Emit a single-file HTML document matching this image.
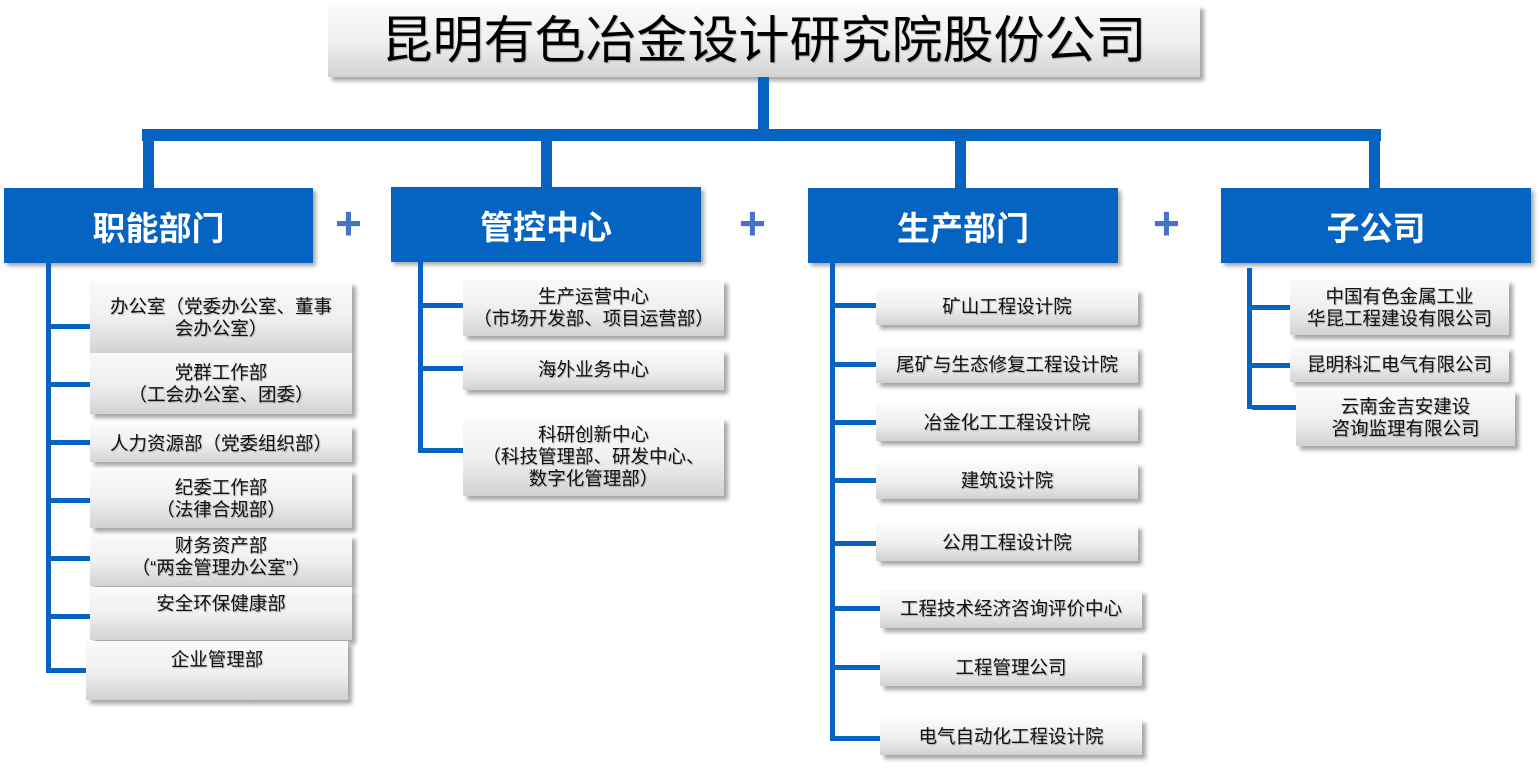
<!DOCTYPE html>
<html><head><meta charset="utf-8"><style>
body{margin:0;width:1538px;height:768px;background:#fff;position:relative;overflow:hidden;font-family:"Liberation Sans","Noto Sans CJK SC",sans-serif}
div{position:absolute;box-sizing:border-box}
.l{background:#0563c1}
.h{background:#0563c1;color:#fff;font-weight:bold;font-size:33px;display:flex;align-items:center;justify-content:center;box-shadow:3px 3px 4px rgba(0,0,0,.35)}
.b{background:linear-gradient(#fafafa 0%,#f0f0f0 50%,#d2d2d2 100%);box-shadow:4px 4px 4px rgba(0,0,0,.35);font-size:18.5px;color:#111;text-align:center;line-height:22px;display:flex;align-items:center;justify-content:center;text-shadow:1px 1px 1px rgba(0,0,0,.25);white-space:nowrap}
.p{color:#4a72c4;font-size:46px;font-weight:bold;line-height:46px}
</style></head><body>
<div class="b" style="left:328px;top:5px;width:872px;height:72px;font-size:51px;line-height:56px;color:#000">昆明有色冶金设计研究院股份公司</div>
<div class="l" style="left:758px;top:77px;width:11px;height:53px"></div>
<div class="l" style="left:142px;top:129px;width:1239px;height:12px"></div>
<div class="l" style="left:143px;top:135px;width:11px;height:55px"></div>
<div class="l" style="left:541px;top:135px;width:11px;height:55px"></div>
<div class="l" style="left:955px;top:135px;width:11px;height:55px"></div>
<div class="l" style="left:1369px;top:135px;width:11px;height:55px"></div>
<div class="h" style="left:4px;top:188px;width:309px;height:75px">职能部门</div>
<div class="h" style="left:391px;top:187px;width:310px;height:75px">管控中心</div>
<div class="h" style="left:808px;top:188px;width:310px;height:75px">生产部门</div>
<div class="h" style="left:1221px;top:188px;width:310px;height:75px">子公司</div>
<div class="p" style="left:335px;top:200px">+</div>
<div class="p" style="left:739px;top:200px">+</div>
<div class="p" style="left:1153px;top:200px">+</div>

<div class="l" style="left:46px;top:263px;width:5px;height:410px"></div>
<div class="l" style="left:46px;top:324px;width:44px;height:5px"></div>
<div class="l" style="left:46px;top:382px;width:44px;height:5px"></div>
<div class="l" style="left:46px;top:440px;width:44px;height:5px"></div>
<div class="l" style="left:46px;top:498px;width:44px;height:5px"></div>
<div class="l" style="left:46px;top:556px;width:44px;height:5px"></div>
<div class="l" style="left:46px;top:614px;width:44px;height:5px"></div>
<div class="l" style="left:46px;top:668px;width:44px;height:5px"></div>
<div class="b" style="left:90px;top:282px;width:262px;height:71px">办公室（党委办公室、董事<br>会办公室）</div>
<div class="b" style="left:90px;top:353px;width:262px;height:61px">党群工作部<br>（工会办公室、团委）</div>
<div class="b" style="left:90px;top:425px;width:262px;height:37px">人力资源部（党委组织部）</div>
<div class="b" style="left:90px;top:470px;width:262px;height:58px">纪委工作部<br>（法律合规部）</div>
<div class="b" style="left:90px;top:535px;width:262px;height:51px;align-items:flex-start">财务资产部<br>（“两金管理办公室”）</div>
<div class="b" style="left:90px;top:587px;width:262px;height:53px;align-items:flex-start;padding-top:6px">安全环保健康部</div>
<div class="b" style="left:86px;top:641px;width:262px;height:59px;align-items:flex-start;padding-top:8px">企业管理部</div>

<div class="l" style="left:418px;top:262px;width:5px;height:191px"></div>
<div class="l" style="left:418px;top:303px;width:45px;height:5px"></div>
<div class="l" style="left:418px;top:366px;width:45px;height:5px"></div>
<div class="l" style="left:418px;top:448px;width:45px;height:5px"></div>
<div class="b" style="left:463px;top:280px;width:261px;height:56px">生产运营中心<br>（市场开发部、项目运营部）</div>
<div class="b" style="left:463px;top:350px;width:261px;height:40px">海外业务中心</div>
<div class="b" style="left:463px;top:418px;width:261px;height:78px">科研创新中心<br>（科技管理部、研发中心、<br>数字化管理部）</div>

<div class="l" style="left:830px;top:263px;width:5px;height:478px"></div>
<div class="l" style="left:830px;top:303px;width:46px;height:5px"></div>
<div class="l" style="left:830px;top:362px;width:46px;height:5px"></div>
<div class="l" style="left:830px;top:420px;width:46px;height:5px"></div>
<div class="l" style="left:830px;top:478px;width:46px;height:5px"></div>
<div class="l" style="left:830px;top:541px;width:46px;height:5px"></div>
<div class="l" style="left:830px;top:606px;width:50px;height:5px"></div>
<div class="l" style="left:830px;top:665px;width:50px;height:5px"></div>
<div class="l" style="left:830px;top:736px;width:50px;height:5px"></div>
<div class="b" style="left:876px;top:289px;width:262px;height:36px">矿山工程设计院</div>
<div class="b" style="left:876px;top:347px;width:262px;height:36px">尾矿与生态修复工程设计院</div>
<div class="b" style="left:876px;top:405px;width:262px;height:36px">冶金化工工程设计院</div>
<div class="b" style="left:876px;top:463px;width:262px;height:36px">建筑设计院</div>
<div class="b" style="left:876px;top:525px;width:262px;height:36px">公用工程设计院</div>
<div class="b" style="left:880px;top:590px;width:262px;height:38px">工程技术经济咨询评价中心</div>
<div class="b" style="left:880px;top:650px;width:262px;height:36px">工程管理公司</div>
<div class="b" style="left:880px;top:719px;width:262px;height:36px">电气自动化工程设计院</div>

<div class="l" style="left:1247px;top:268px;width:5px;height:141px"></div>
<div class="l" style="left:1247px;top:305px;width:43px;height:5px"></div>
<div class="l" style="left:1247px;top:363px;width:43px;height:5px"></div>
<div class="l" style="left:1252px;top:405px;width:44px;height:5px"></div>
<div class="b" style="left:1290px;top:280px;width:219px;height:55px">中国有色金属工业<br>华昆工程建设有限公司</div>
<div class="b" style="left:1290px;top:347px;width:219px;height:35px">昆明科汇电气有限公司</div>
<div class="b" style="left:1296px;top:390px;width:219px;height:56px">云南金吉安建设<br>咨询监理有限公司</div>
</body></html>
